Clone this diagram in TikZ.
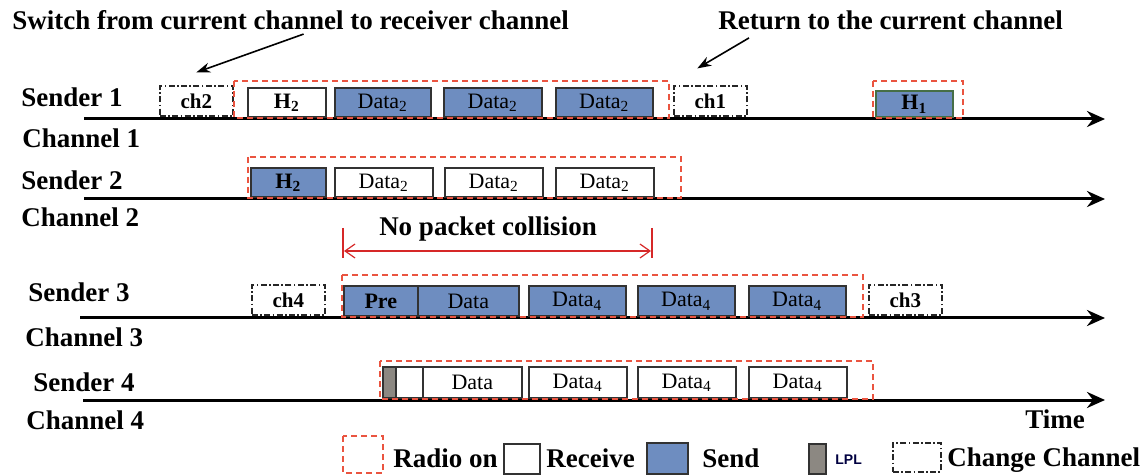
\documentclass[tikz,border=0pt]{standalone}
\usepackage{fontspec}
\setmainfont{Liberation Serif}
\newfontfamily\lplfont{Liberation Sans}
\usetikzlibrary{arrows.meta, calc}
\definecolor{sendblue}{RGB}{110,141,192}
\definecolor{radiored}{RGB}{234,84,64}
\definecolor{bracketred}{RGB}{214,40,40}
\definecolor{lplgray}{RGB}{140,136,130}
\definecolor{boxline}{RGB}{50,50,50}
\definecolor{hgreen}{RGB}{70,110,70}

\begin{document}
\begin{tikzpicture}[x=0.5pt, y=-0.5pt, >=Stealth,
  lbl/.style={anchor=west, inner sep=0pt, font=\fontsize{13.5}{16}\selectfont\bfseries},
  pkt/.style={draw=boxline, line width=0.8pt, anchor=south west, inner sep=0pt,
    minimum height=14.5pt, font=\fontsize{11}{12}\selectfont},
  rx/.style={pkt, fill=white},
  tx/.style={pkt, fill=sendblue},
  chg/.style={draw=black!85, line width=0.8pt, dash pattern=on 3pt off 1.2pt on 0.8pt off 1.2pt,
    anchor=south west, inner sep=0pt, minimum width=36.5pt, minimum height=15pt,
    font=\fontsize{10.5}{12}\selectfont\bfseries},
  radio/.style={draw=radiored, line width=0.8pt, dash pattern=on 3pt off 2pt},
  lpl/.style={draw=boxline, line width=0.8pt, fill=lplgray, inner sep=0pt},
  axis/.style={line width=1.5pt, -{Stealth[length=9pt, width=8pt, inset=3pt]}},
  callout/.style={line width=0.8pt, -{Stealth[length=7pt, width=5pt]}}]
  \useasboundingbox (0,0) rectangle (1144,475);

  % titles and callouts
  \node[lbl] (sw) at (12,20) {Switch from current channel to receiver channel};
  \node[lbl] (rt) at (718,20) {Return to the current channel};

  % channel 1
  \node[lbl] (s1) at (21,97) {Sender 1};
  \node[lbl] (c1) at (22,138) {Channel 1};
  \draw[axis] (84,119) -- (1105,119);
  \node[chg] (ch2) at (159,117) {ch2};
  \node[rx, minimum width=39pt] (h2a) at (247,118) {\textbf{H\textsubscript{2}}};
  \foreach \x/\w [count=\i] in {334/48, 443/49, 555/48.5}
    \node[tx, minimum width=\w pt] (da\i) at (\x,118) {Data\textsubscript{2}};
  \node[chg] (ch1) at (673,117) {ch1};
  \node[tx, draw=hgreen, minimum width=38.5pt, minimum height=13pt] (h1) at (875,118) {\textbf{H\textsubscript{1}}};
  \draw[radio] (234,81) rectangle (669,118);
  \draw[radio] (873,81) rectangle (963,118);
  \draw[callout] ([xshift=6.5pt, yshift=-2pt]sw.south) -- ([yshift=6.5pt]ch2.north);
  \draw[callout] ([xshift=15.5pt, yshift=-4pt]rt.south west) -- ([xshift=-6.5pt, yshift=8.5pt]ch1.north);

  % channel 2
  \node[lbl] (s2) at (21,180) {Sender 2};
  \node[lbl] (c2) at (21,217) {Channel 2};
  \draw[axis] (84,199) -- (1105,199);
  \node[tx, minimum width=37.5pt] (h2b) at (250,198) {\textbf{H\textsubscript{2}}};
  \foreach \x [count=\i] in {334, 444, 555}
    \node[rx, minimum width=49pt] (db\i) at (\x,198) {Data\textsubscript{2}};
  \draw[radio] (248,157) rectangle (681,198);

  % no packet collision
  \coordinate (cl) at (343,228);
  \coordinate (cr) at (652,228);
  \draw[bracketred, line width=1.2pt] (cl) -- ++(0,30);
  \draw[bracketred, line width=1.2pt] (cr) -- ++(0,30);
  \draw[bracketred, line width=0.6pt, {Straight Barb[length=5pt, width=7pt]}-{Straight Barb[length=5pt, width=7pt]}]
    ($(cl)+(1,23)$) -- ($(cr)+(-1,23)$);
  \node[lbl, anchor=center] (npc) at (488,229) {No packet collision};

  % channel 3
  \node[lbl] (s3) at (28,292) {Sender 3};
  \node[lbl] (c3) at (25,337) {Channel 3};
  \draw[axis] (80,318) -- (1105,318);
  \node[chg] (ch4) at (251,316) {ch4};
  \node[tx, minimum width=37pt, minimum height=15pt] (pre) at (343,317) {\textbf{Pre}};
  \node[tx, minimum width=50.5pt, minimum height=15pt] (dc0) at (417,317) {Data};
  \foreach \x [count=\i] in {528, 637, 748}
    \node[tx, minimum width=48.5pt, minimum height=15pt] (dc\i) at (\x,317) {Data\textsubscript{4}};
  \node[chg] (ch3) at (868,316) {ch3};
  \draw[radio] (342,275) rectangle (863,317);

  % channel 4
  \node[lbl] (s4) at (33,382) {Sender 4};
  \node[lbl] (c4) at (26,420) {Channel 4};
  \draw[axis] (83,400) -- (1105,400);
  \node[lpl, anchor=south west, minimum width=6.5pt, minimum height=15.5pt] (lp) at (382,399) {};
  \node[rx, minimum width=13.5pt, minimum height=15.5pt] (gap) at (395,399) {};
  \node[rx, minimum width=49.5pt, minimum height=15.5pt] (dd0) at (422,399) {Data};
  \foreach \x [count=\i] in {528, 637, 748}
    \node[rx, minimum width=49pt, minimum height=15.5pt] (dd\i) at (\x,399) {Data\textsubscript{4}};
  \draw[radio] (380,361) rectangle (873,399);
  \node[lbl] (tm) at (1025,419) {Time};

  % legend
  \draw[radio] (343,436) rectangle (383,473);
  \node[lbl] (lg1) at (393,458) {Radio on};
  \node[rx, anchor=north west, minimum width=18pt, minimum height=15pt] (lgrx) at (503,443) {};
  \node[lbl] (lg2) at (546,458) {Receive};
  \node[tx, anchor=north west, minimum width=20.5pt, minimum height=15.5pt] (lgtx) at (646,442) {};
  \node[lbl] (lg3) at (702,458) {Send};
  \node[lpl, anchor=north west, minimum width=8.5pt, minimum height=15pt] (lglp) at (808,443) {};
  \node[anchor=west, inner sep=0pt, text=black!75!blue, font=\lplfont\fontsize{7}{8}\selectfont\bfseries] (lg4) at (835,460) {LPL};
  \node[chg, anchor=north west, minimum width=24pt, minimum height=14.5pt] (lgch) at (892,442) {};
  \node[lbl] (lg5) at (947,460) {Change Channel};
\end{tikzpicture}
\end{document}
